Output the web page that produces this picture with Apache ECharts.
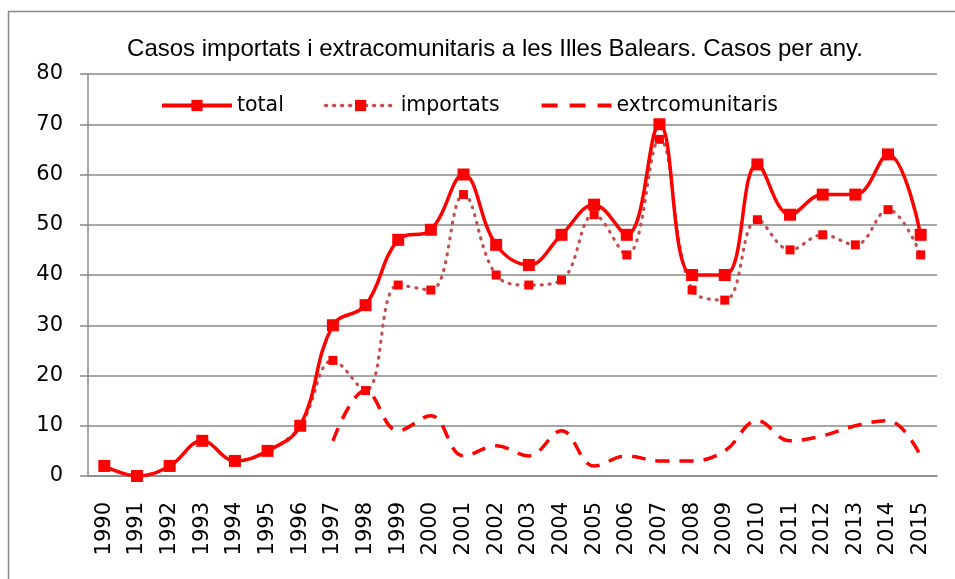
<!DOCTYPE html>
<html lang="ca">
<head>
    <meta charset="UTF-8">
    <title>Casos importats</title>
    <script src="https://cdn.jsdelivr.net/npm/echarts@6/dist/echarts.min.js"></script>
    <style>
        body{margin:0;background:#fff;}
    </style>
</head>
<body>
<div id="main" style="width:955px;height:579px;"></div>
<script>
    var years=['1990','1991','1992','1993','1994','1995','1996','1997','1998','1999','2000','2001','2002',
        '2003','2004','2005','2006','2007','2008','2009','2010','2011','2012','2013','2014','2015'];
    var total=[2,0,2,7,3,5,10,30,34,47,49,60,46,42,48,54,48,70,40,40,62,52,56,56,64,48];
    var importats=[2,0,2,7,3,5,10,23,17,38,37,56,40,38,39,52,44,67,37,35,51,45,48,46,53,44];
    var extrcomunitaris=[null,null,null,null,null,null,null,7,17,9,12,4,6,4,9,2,4,3,3,5,11,7,8,10,11,4];

    var axisFont='DejaVu Sans';
    var myChart=echarts.init(document.getElementById('main'));
    var option={
        animation:false,
        title:{
            text:'Casos importats i extracomunitaris a les Illes Balears. Casos per any.',
            left:490,
            textAlign:'center',
            top:32,
            textStyle:{fontFamily:'Liberation Sans',fontSize:24,fontWeight:'normal',color:'#000'}
        },
        legend:{
            left:155,
            top:90,
            itemWidth:70,
            itemHeight:14,
            itemGap:40,
            data:[
                {name:'total',lineStyle:{width:4}},
                {name:'importats',lineStyle:{width:3.5}},
                {name:'extrcomunitaris',itemStyle:{opacity:0},lineStyle:{width:4,type:[16,12]}}
            ],
            textStyle:{fontFamily:axisFont,fontSize:20.5,color:'#000'}
        },
        grid:{left:88,right:18,top:74,bottom:103,containLabel:false},
        xAxis:{
            type:'category',
            data:years,
            axisLine:{lineStyle:{color:'#888',width:1.5}},
            axisTick:{length:10,lineStyle:{color:'#888',width:1.5}},
            axisLabel:{rotate:90,margin:26,fontFamily:axisFont,fontSize:21,color:'#000'}
        },
        yAxis:{
            type:'value',
            min:0,
            max:80,
            interval:10,
            axisLine:{show:true,lineStyle:{color:'#888',width:1.5}},
            axisTick:{show:true,length:8,lineStyle:{color:'#888',width:1.5}},
            splitLine:{lineStyle:{color:'#888',width:1.5}},
            axisLabel:{margin:25,fontFamily:axisFont,fontSize:21,color:'#000'}
        },
        graphic:[{
            type:'rect',
            shape:{x:8.5,y:11.5,width:1000,height:1000},
            style:{fill:'none',stroke:'#888',lineWidth:1.5},
            silent:true,
            z:-1
        }],
        series:[
            {
                name:'total',
                type:'line',
                data:total,
                smooth:0.4,
                symbol:'rect',
                symbolSize:12,
                itemStyle:{color:'#ff0000'},
                lineStyle:{color:'#ff0000',width:3.5},
                z:3
            },
            {
                name:'importats',
                type:'line',
                data:importats,
                smooth:0.4,
                symbol:'rect',
                symbolSize:9,
                itemStyle:{color:'#ff0000'},
                lineStyle:{color:'#c0504d',width:3.2,type:[1,7],cap:'round'},
                z:2
            },
            {
                name:'extrcomunitaris',
                type:'line',
                data:extrcomunitaris,
                smooth:0.4,
                symbol:'none',
                itemStyle:{color:'#ff0000'},
                lineStyle:{color:'#ff0000',width:3.5,type:[14,10]},
                z:1
            }
        ]
    };
    myChart.setOption(option);
</script>
</body>
</html>
